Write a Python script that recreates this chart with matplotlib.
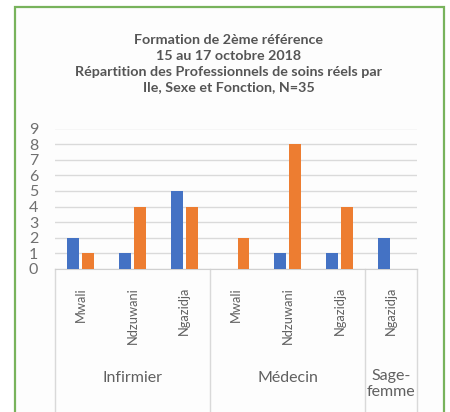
import matplotlib
matplotlib.use("Agg")
import matplotlib.pyplot as plt
from matplotlib.patches import Rectangle
from matplotlib.lines import Line2D
import numpy as np

plt.rcParams['font.family'] = ['Lato', 'DejaVu Sans']

title = "Formation de 2ème référence\n15 au 17 octobre 2018\nRépartition des Professionnels de soins réels par\nIle, Sexe et Fonction, N=35"
categories = ["Mwali", "Ndzuwani", "Ngazidja", "Mwali", "Ndzuwani", "Ngazidja", "Ngazidja"]
groups = ["Infirmier", "Médecin", "Sage-\nfemme"]
group_sizes = [3, 3, 1]
series_blue = [2, 1, 5, 0, 1, 1, 2]
series_orange = [1, 4, 4, 2, 8, 4, 0]
yticks = list(range(0, 10))

W, H = 450, 412
fig = plt.figure(figsize=(W / 100, H / 100), dpi=100)
fig.patch.set_facecolor("white")

# green frame
fig.patches.append(Rectangle((15 / W, -0.05), (444 - 15) / W, 1.05 - 7 / H,
                             transform=fig.transFigure, facecolor="#fdfdfd",
                             edgecolor="#78b35c", linewidth=1.6, zorder=-10))

fig.text(229 / W, 1 - 34.5 / H, title, ha="center", va="top", fontsize=10.3,
         fontweight="bold", color="#555555", linespacing=1.36)

ax_left, ax_right = 55 / W, 417 / W
ax_bottom = 1 - 269 / H
ax_top = 1 - 128.5 / H
ax = fig.add_axes([ax_left, ax_bottom, ax_right - ax_left, ax_top - ax_bottom])
ax.set_facecolor("none")

x = np.arange(len(categories))
bw = 0.23
gap = 0.06
ax.bar(x - (bw + gap) / 2, series_blue, width=bw, color="#4472C4", zorder=3)
ax.bar(x + (bw + gap) / 2, series_orange, width=bw, color="#ED7D31", zorder=3)

ax.set_xlim(-0.5, len(categories) - 0.5)
ax.set_ylim(0, 9)
ax.set_yticks(yticks)
ax.set_yticklabels([str(v) for v in yticks], fontsize=11.5, color="#707070")
ax.yaxis.grid(True, color="#dadada", linewidth=1)
ax.set_axisbelow(True)
for s in ["top", "right", "left"]:
    ax.spines[s].set_visible(False)
ax.spines["bottom"].set_color("#d0d0d0")
ax.tick_params(axis="y", length=0, pad=12)
ax.tick_params(axis="x", length=0, pad=13)
ax.set_xticks(x)
ax.set_xticklabels(categories, rotation=90, fontsize=9.3, color="#606060", va="top")

# group separators and labels
axes_h_px = 269 - 128.5
bottom_ext = -(412 - 269) / axes_h_px
bounds = np.concatenate([[0], np.cumsum(group_sizes)]) - 0.5
for b in bounds:
    ax.add_line(Line2D([b, b], [0, bottom_ext], transform=ax.get_xaxis_transform(),
                       color="#d9d9d9", linewidth=1, clip_on=False))
for g, lo, hi in zip(groups, bounds[:-1], bounds[1:]):
    ypix = 384 if "\n" in g else 378
    yc = -(ypix - 269) / axes_h_px
    ax.text((lo + hi) / 2, yc, g, transform=ax.get_xaxis_transform(),
            ha="center", va="center", fontsize=11.5, color="#606060", linespacing=1.2)

fig.savefig("out.png", dpi=100)
